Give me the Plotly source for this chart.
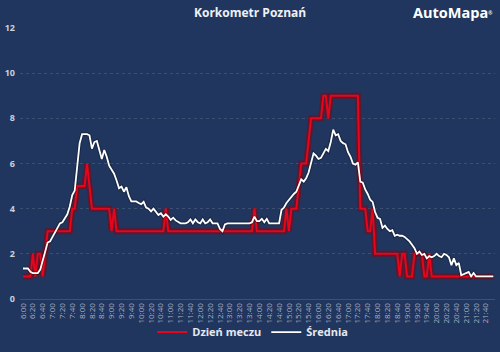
import plotly.graph_objects as go

# time categories every 5 minutes, 6:00 - 21:55
times = [f"{h}:{m:02d}" for h in range(6, 22) for m in range(0, 60, 5)]
tick_labels = times[::4]

dzien_meczu = [
    1, 1, 1, 1, 2, 1, 2, 2, 1, 2, 3, 3,
    3, 3, 3, 3, 3, 3, 3, 3, 4, 4, 5, 5,
    5, 5, 6, 5, 4, 4, 4, 4, 4, 4, 4, 4,
    3, 4, 3, 3, 3, 3, 3, 3, 3, 3, 3, 3,
    3, 3, 3, 3, 3, 3, 3, 3, 3, 3, 4, 3,
    3, 3, 3, 3, 3, 3, 3, 3, 3, 3, 3, 3,
    3, 3, 3, 3, 3, 3, 3, 3, 3, 3, 3, 3,
    3, 3, 3, 3, 3, 3, 3, 3, 3, 3, 4, 3,
    3, 3, 3, 3, 3, 3, 3, 3, 3, 3, 3, 4,
    3, 4, 4, 4, 5, 6, 6, 6, 7, 8, 8, 8,
    8, 8, 9, 9, 8, 9, 9, 9, 9, 9, 9, 9,
    9, 9, 9, 9, 9, 4, 4, 4, 3, 3, 4, 2,
    2, 2, 2, 2, 2, 2, 2, 2, 2, 1, 2, 2,
    1, 1, 1, 2, 2, 2, 2, 1, 1, 2, 1, 1,
    1, 1, 1, 1, 1, 1, 1, 1, 1, 1, 1, 1,
    1, 1, 1, 1, 1, 1, 1, 1, 1, 1, 1, 1,
]

srednia = [
    1.35, 1.35, 1.35, 1.2, 1.15, 1.15, 1.15, 1.3, 1.7, 2.2, 2.5, 2.55,
    2.75, 2.95, 3.15, 3.35, 3.4, 3.55, 3.75, 4.1, 4.6, 4.8, 5.8, 6.9,
    7.3, 7.3, 7.3, 7.25, 6.66, 6.95, 7.0, 6.6, 6.2, 6.6, 6.3, 5.9,
    5.7, 5.55, 5.25, 4.9, 4.98, 4.75, 4.95, 4.55, 4.32, 4.32, 4.32, 4.25,
    4.2, 4.3, 4.05, 4.0, 3.88, 4.0, 3.85, 3.72, 3.8, 3.65, 3.75, 3.65,
    3.5, 3.6, 3.48, 3.42, 3.35, 3.35, 3.35, 3.4, 3.52, 3.35, 3.52, 3.4,
    3.35, 3.52, 3.35, 3.4, 3.52, 3.35, 3.35, 3.35, 3.1, 3.0, 3.3, 3.35,
    3.35, 3.35, 3.35, 3.35, 3.35, 3.35, 3.35, 3.35, 3.35, 3.4, 3.65, 3.45,
    3.45, 3.55, 3.4, 3.55, 3.35, 3.35, 3.35, 3.35, 3.35, 3.95, 4.05, 4.25,
    4.4, 4.5, 4.65, 4.75, 5.0, 5.3, 5.2, 5.35, 5.6, 6.1, 6.45, 6.35,
    6.2, 6.25, 6.45, 6.65, 6.55, 6.95, 7.5, 7.25, 7.3, 7.0, 6.9, 6.85,
    6.5, 6.3, 6.0, 5.95, 6.05, 5.2, 5.15, 4.85, 4.65, 4.4, 4.3, 3.85,
    3.6, 3.55, 3.15, 3.25, 3.1, 3.0, 3.05, 2.8, 2.85, 2.8, 2.8, 2.75,
    2.65, 2.55, 2.4, 2.25, 2.0, 2.1, 1.95, 2.0, 1.8, 1.9, 1.85, 1.9,
    2.0, 1.9, 1.85, 2.0, 1.95, 1.85, 1.5, 1.8, 1.5, 1.6, 1.05, 1.1,
    1.15, 1.2, 1.0, 1.15, 1.0, 1.0, 1.0, 1.0, 1.0, 1.0, 1.0, 1.0,
]

BG = "#21365e"
RED = "#e3061c"
FONT = "Open Sans"

fig = go.Figure()
fig.add_trace(go.Scatter(x=times, y=dzien_meczu, mode="lines", showlegend=False,
                         hoverinfo="skip",
                         line=dict(color="rgba(140,0,10,0.55)", width=6)))
fig.add_trace(go.Scatter(x=times, y=dzien_meczu, mode="lines", name="Dzień meczu",
                         line=dict(color=RED, width=2)))
fig.add_trace(go.Scatter(x=times, y=srednia, mode="lines", showlegend=False,
                         hoverinfo="skip",
                         line=dict(color="rgba(0,0,0,0.25)", width=4)))
fig.add_trace(go.Scatter(x=times, y=srednia, mode="lines", name="Średnia",
                         line=dict(color="#ffffff", width=1.8)))

fig.update_layout(
    width=500, height=352,
    margin=dict(l=20, r=5, t=28, b=46),
    paper_bgcolor=BG, plot_bgcolor=BG,
    font=dict(family=FONT, color="#c9d0de"),
    showlegend=True,
    legend=dict(orientation="h", x=0.49, xanchor="center", y=-0.122, yanchor="middle",
                font=dict(family=FONT, size=11, color="#e6e9f0", weight="bold"),
                bgcolor="rgba(0,0,0,0)", itemwidth=30, tracegroupgap=0),
    xaxis=dict(type="category", range=[-1.22, 191.7], tickmode="array",
               tickvals=tick_labels, ticktext=tick_labels, tickangle=-90,
               tickfont=dict(family=FONT, size=8, color="#aab3c6"),
               showgrid=False, showline=True, linecolor="#3a5080", linewidth=1,
               ticks="", zeroline=False),
    yaxis=dict(range=[0, 12], dtick=2, tick0=0,
               tickfont=dict(family=FONT, size=9, color="#c9d0de", weight="bold"),
               showgrid=True, gridcolor="rgba(255,255,255,0.13)", griddash="dot",
               gridwidth=1, zeroline=False, ticks="", ticklabelstandoff=4),
    annotations=[
        dict(text="Korkometr Poznań", xref="paper", yref="paper", x=0.484, y=1.0576,
             xanchor="center", yanchor="middle", showarrow=False,
             font=dict(family=FONT, size=12, color="#eef1f6", weight="bold")),
        dict(text="AutoMapa<span style='font-size:7px'><sup>®</sup></span>",
             xref="paper", yref="paper", x=0.998, y=1.056,
             xanchor="right", yanchor="middle", showarrow=False,
             font=dict(family=FONT, size=14.5, color="#ffffff", weight="bold")),
    ],
)

fig.write_html("out.html")
